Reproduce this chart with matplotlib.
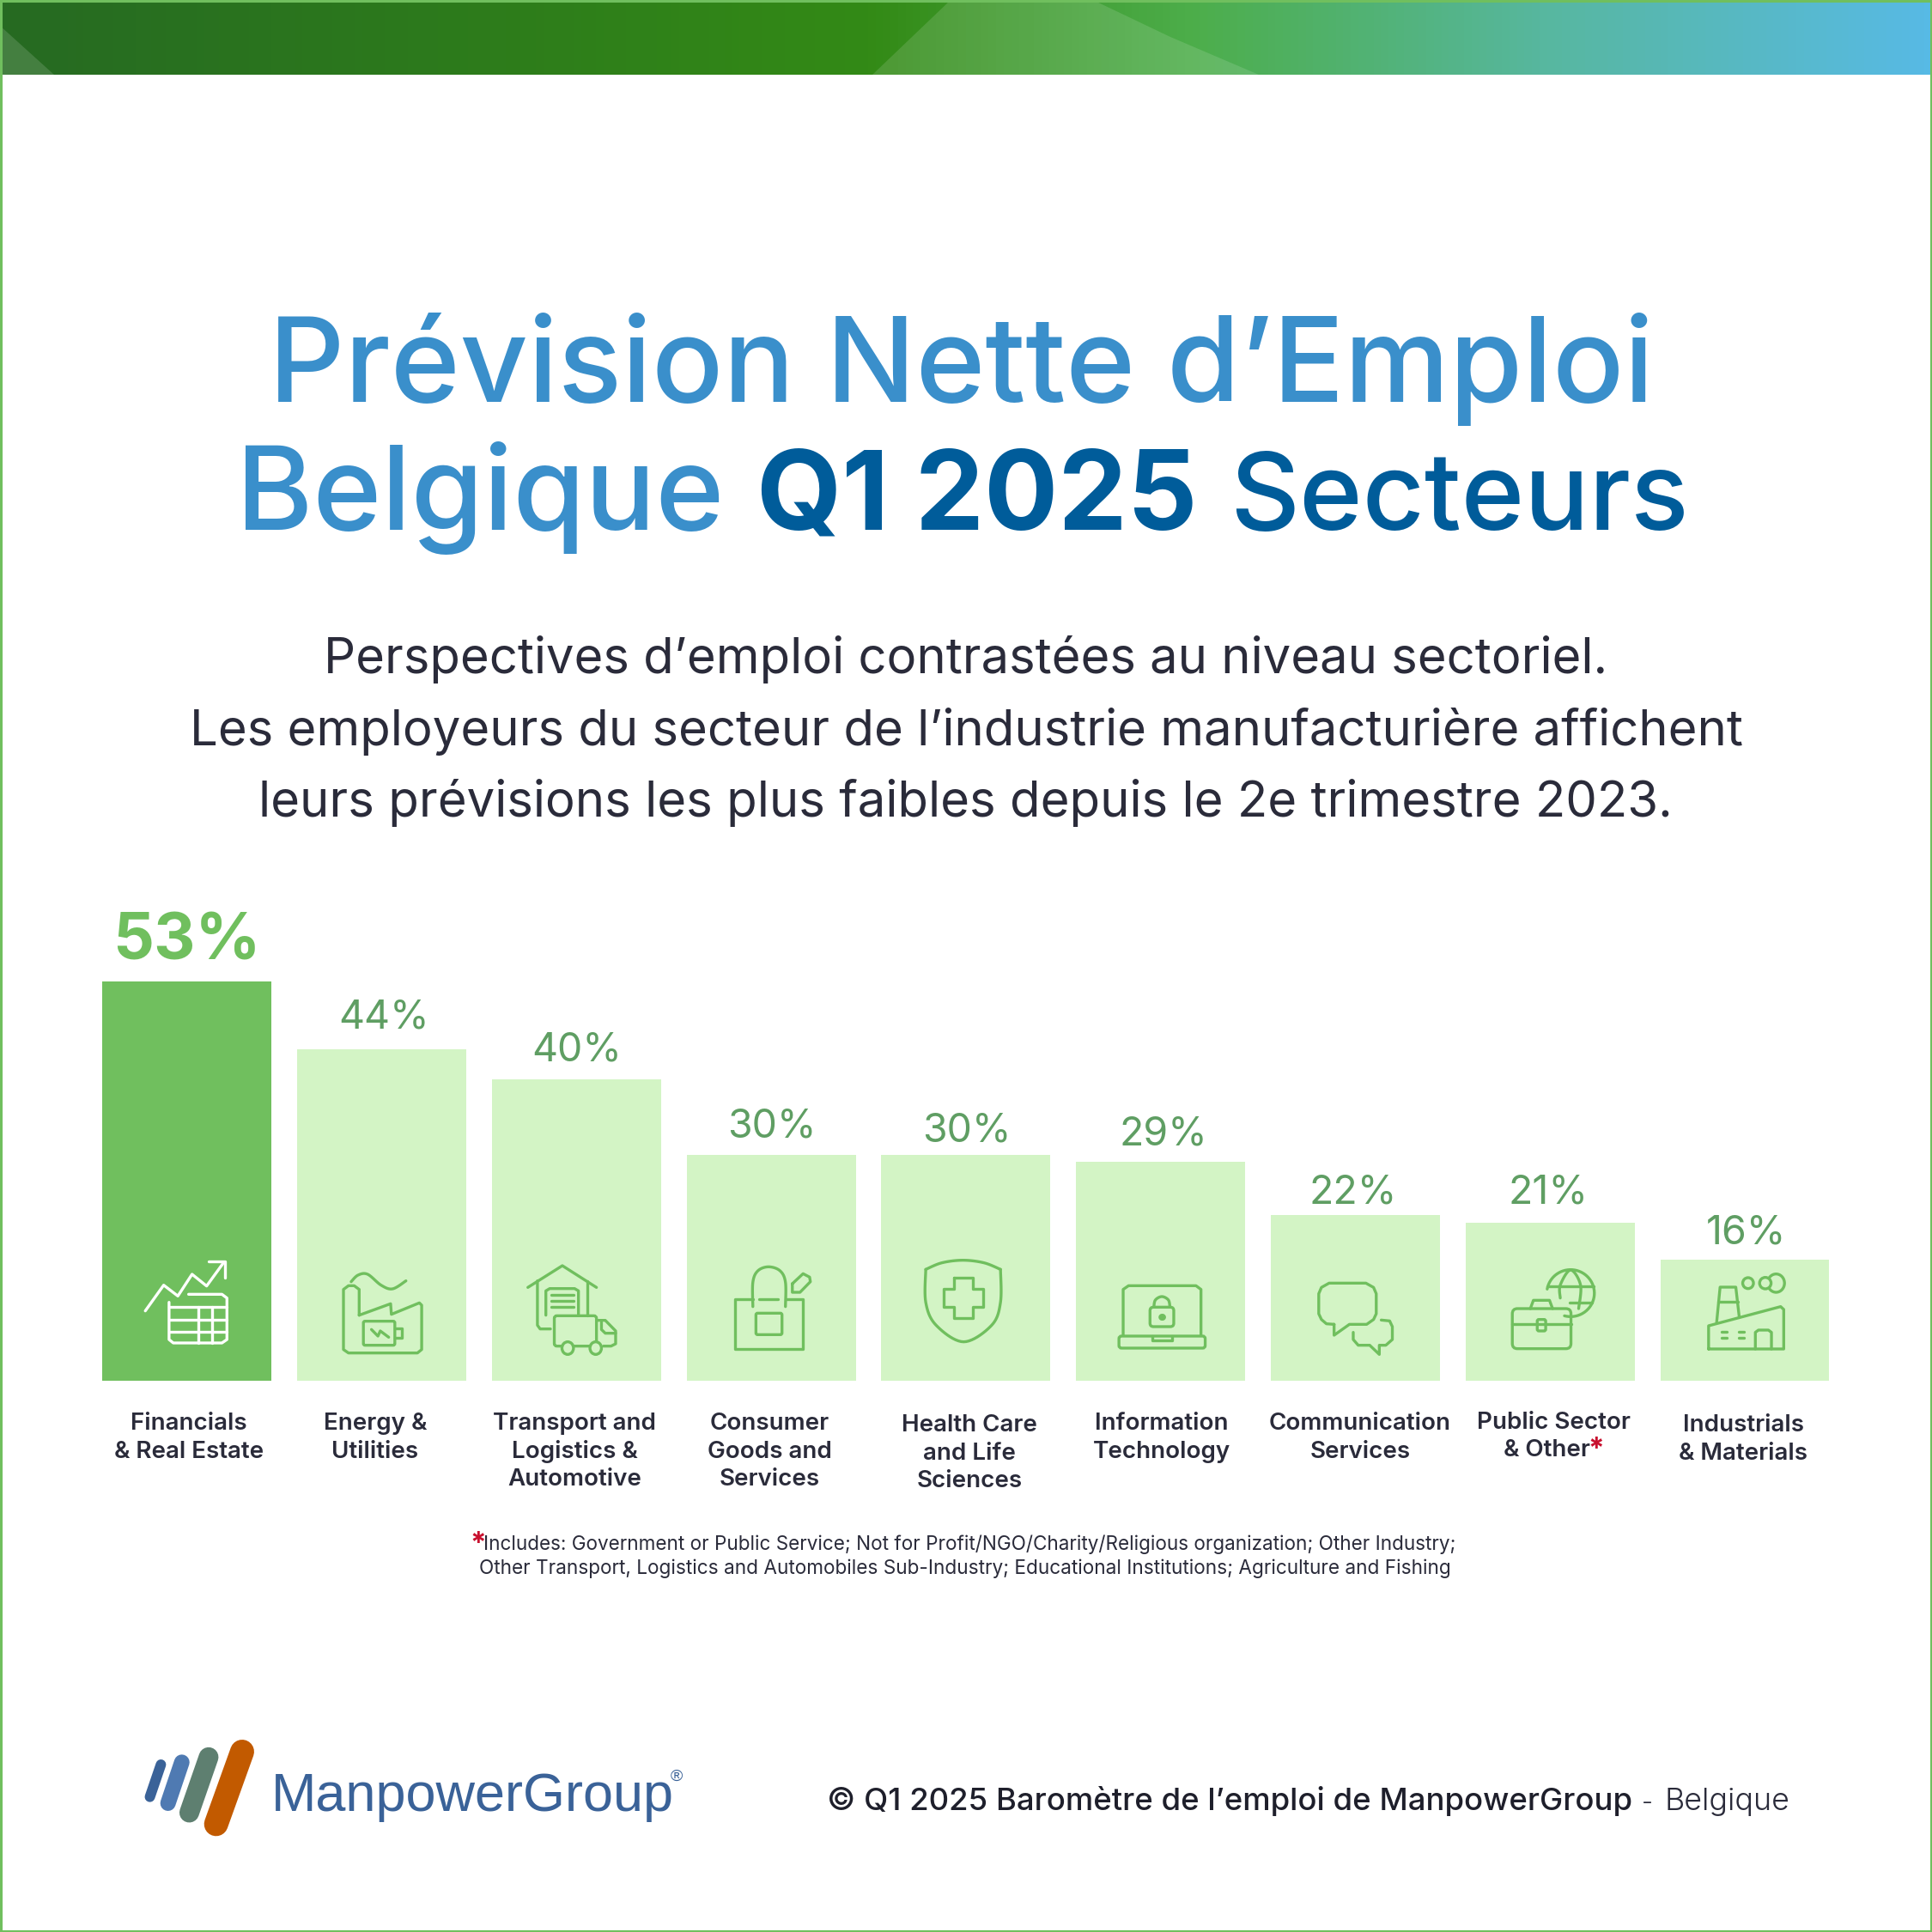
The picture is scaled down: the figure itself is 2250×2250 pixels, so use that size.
import numpy as np
import matplotlib
matplotlib.use('Agg')
import matplotlib.pyplot as plt
from matplotlib.colors import LinearSegmentedColormap
from matplotlib.patches import Ellipse, FancyBboxPatch, Polygon, Rectangle

# data
categories = [
    ['Financials', '& Real Estate'],
    ['Energy &', 'Utilities'],
    ['Transport and', 'Logistics &', 'Automotive'],
    ['Consumer', 'Goods and', 'Services'],
    ['Health Care', 'and Life', 'Sciences'],
    ['Information', 'Technology'],
    ['Communication', 'Services'],
    ['Public Sector', '& Other'],
    ['Industrials', '& Materials'],
]
values = [53, 44, 40, 30, 30, 29, 22, 21, 16]

# layout, in pixels of the final image
label_dx = [0, 3, 0, 1, 1, 3, -3, -2, 2]
label_gap = [26, 25, 22, 20, 15, 20, 13, 22, 19]
cat_x = [220, 437, 669, 896, 1129, 1353, 1584, 1809, 2030]
cat_dy = [0, 0, 0, 0, 2, 0, 0, -1, 2]

BAR_DARK = '#70BF5E'
BAR_LIGHT = '#D3F4C5'
LABEL = '#5F9E63'
INK = '#2A2B3A'
BLUE = '#3A8FCB'
NAVY = '#005C9A'
LOGO = '#3A6298'
RED = '#C8102E'

plt.rcParams['font.family'] = ['Inter', 'DejaVu Sans']

fig = plt.figure(figsize=(22.5, 22.5), dpi=100)
fig.patch.set_facecolor('white')
PT = 72 / 100

# bars : 8.76 px per point of percentage, baseline at y=1607.5
ax = fig.add_axes([104.4 / 2250, 1 - 1607.5 / 2250, 2041 / 2250, 525.6 / 2250])
ax.set_xlim(-0.5, 8.5)
ax.set_ylim(0, 60)
ax.axis('off')
ax.bar(range(len(values)), values, width=0.868,
       color=[BAR_DARK] + [BAR_LIGHT] * (len(values) - 1))
for i, v in enumerate(values):
    big = i == 0
    ax.annotate(f'{v}%', (i, v), xytext=(label_dx[i] * PT, label_gap[i] * PT),
                textcoords='offset points', ha='center', va='baseline',
                color=BAR_DARK if big else LABEL,
                fontsize=54 if big else 33.5, fontweight=700 if big else 400,
                annotation_clip=False)

# overlay in image pixels
px = fig.add_axes([0, 0, 1, 1], facecolor='none')
px.set_xlim(0, 2250)
px.set_ylim(2250, 0)
px.axis('off')


def fit_text(x0, x1, y, s, **kw):
    # font size is adjusted so the text spans x0..x1
    t = px.text(x0, y, s, ha='left', va='baseline', fontsize=40, **kw)
    w = t.get_window_extent(fig.canvas.get_renderer()).width
    t.set_fontsize(40 * (x1 - x0) / w)
    return t


# top band
band = LinearSegmentedColormap.from_list('band', [
    (0, '#266A22'), (0.45, '#338A16'), (0.62, '#4DAE4B'),
    (0.8, '#57B79F'), (1, '#57BAE5')])
px.imshow(np.linspace(0, 1, 512)[None, :], cmap=band, extent=(0, 2250, 87, 2), aspect='auto', zorder=1)
px.set_xlim(0, 2250)
px.set_ylim(2250, 0)
px.add_patch(Polygon([(1105, 2), (1277, 2), (1363, 43), (1466, 87), (1016, 87)], fc='white', alpha=0.13, ec='none', zorder=2))
px.add_patch(Polygon([(0, 30), (63, 87), (0, 87)], fc='white', alpha=0.14, ec='none', zorder=2))
px.add_patch(Rectangle((1, 1), 2248, 2248, fc='none', ec=BAR_DARK, lw=2.2, zorder=5))

# title and subtitle
fit_text(313, 1925, 468, 'Prévision Nette d’Emploi', color=BLUE, fontweight=500)
fit_text(275, 843, 617, 'Belgique', color=BLUE, fontweight=500)
fit_text(881, 1394, 617, 'Q1 2025', color=NAVY, fontweight=700)
fit_text(1432, 1966, 617, 'Secteurs', color=NAVY, fontweight=500)
fit_text(377, 1873, 784, 'Perspectives d’emploi contrastées au niveau sectoriel.', color=INK)
fit_text(221, 2029, 868, 'Les employeurs du secteur de l’industrie manufacturière affichent', color=INK)
fit_text(301, 1947, 951, 'leurs prévisions les plus faibles depuis le 2e trimestre 2023.', color=INK)

# category labels
for lines, x, dy in zip(categories, cat_x, cat_dy):
    for j, line in enumerate(lines):
        xx = 1801 if line == '& Other' else x
        px.text(xx, 1665 + dy + j * 32.5, line, ha='center', va='baseline', fontsize=20,
                fontweight=600, color=INK)
px.text(1849, 1698, '*', ha='left', va='baseline', fontsize=24, fontweight=700, color=RED)

# footnote
px.text(547, 1808, '*', ha='left', va='baseline', fontsize=24, fontweight=700, color=RED)
fit_text(563, 1693, 1805, 'Includes: Government or Public Service; Not for Profit/NGO/Charity/Religious organization; Other Industry;', color=INK)
fit_text(558, 1688, 1833, 'Other Transport, Logistics and Automobiles Sub-Industry; Educational Institutions; Agriculture and Fishing', color=INK)

# footer
fit_text(963, 1900, 2108, '© Q1 2025 Baromètre de l’emploi de ManpowerGroup', color='#1E1F2B', fontweight=500)
fit_text(1912, 1925, 2108, '-', color=INK, fontweight=300)
fit_text(1938, 2084, 2108, 'Belgique', color=INK, fontweight=300)

# logo
for (a, b, w, c) in [((97, 278), (125, 165), 12, '#3A6298'),
                     ((143, 300), (178, 157), 18, '#4F7AB2'),
                     ((197, 333), (246, 139), 23, '#5E7F70'),
                     ((265, 373), (331, 120), 28, '#C25A00')]:
    px.plot([130 + a[0] / 2.178, 130 + b[0] / 2.178], [2000 + a[1] / 3, 2000 + b[1] / 3],
            color=c, lw=w * PT, solid_capstyle='round')
fit_text(316, 785, 2109, 'ManpowerGroup', color=LOGO, family='Liberation Sans')
px.text(781, 2074, '®', color=LOGO, fontsize=14, family='Liberation Sans', va='baseline')


class Icon:
    def __init__(self, ox, color=BAR_DARK):
        self.ox, self.color = ox, color

    def xy(self, pts):
        p = np.array(pts, float)
        return self.ox + p[:, 0] / 2.24, 1400 + p[:, 1] / 3

    def line(self, *pts, closed=False):
        x, y = self.xy(list(pts) + ([pts[0]] if closed else []))
        px.plot(x, y, color=self.color, lw=2.4, solid_joinstyle='round', solid_capstyle='round', zorder=3)

    def curve(self, *pts):
        # Catmull-Rom through the traced points
        p = np.array(pts, float)
        p = np.vstack([p[0], p, p[-1]])
        out = []
        for i in range(1, len(p) - 2):
            for t in np.linspace(0, 1, 12):
                out.append(0.5 * (2 * p[i] + (p[i + 1] - p[i - 1]) * t
                                  + (2 * p[i - 1] - 5 * p[i] + 4 * p[i + 1] - p[i + 2]) * t ** 2
                                  + (3 * p[i] - p[i - 1] - 3 * p[i + 1] + p[i + 2]) * t ** 3))
        self.line(*out)

    def box(self, x0, y0, x1, y1, r=4):
        a, b = self.xy([(x0, y0), (x1, y1)])
        px.add_patch(FancyBboxPatch((a[0] + r, b[0] + r), a[1] - a[0] - 2 * r, b[1] - b[0] - 2 * r,
                                    boxstyle=f'round,pad={r},rounding_size={r}', fc='none',
                                    ec=self.color, lw=2.4, zorder=3))

    def oval(self, cx, cy, rx, ry, fill=False):
        x, y = self.xy([(cx, cy)])
        px.add_patch(Ellipse((x[0], y[0]), 2 * rx / 2.24, 2 * ry / 3, fc=self.color if fill else BAR_LIGHT,
                             ec=self.color, lw=2.4, zorder=3))


# financials
ic = Icon(100, 'white')
ic.line((155, 380), (203, 290), (240, 328), (277, 252), (315, 293), (360, 210))
ic.line((320, 208), (362, 208), (362, 265))
ic.line((268, 322), (355, 322), (368, 335), (368, 480), (355, 492), (228, 492), (217, 480), (217, 350))
for yy in (367, 410, 452):
    ic.line((217, yy), (368, yy))
for xx in (293, 330):
    ic.line((xx, 367), (xx, 492))

# energy
ic = Icon(100)
ic.curve((692, 278), (710, 255), (735, 252), (770, 290), (800, 303), (835, 275))
ic.line((713, 395), (713, 305), (700, 292), (685, 292), (672, 305), (672, 515), (685, 527), (865, 527),
        (876, 515), (876, 360), (870, 352), (797, 392), (795, 355), (713, 395))
ic.box(724, 416, 806, 500, 2)
ic.line((806, 440), (825, 440), (825, 475), (806, 475))
ic.line((745, 445), (762, 468), (768, 450), (790, 472))

# transport
ic.line((1153, 298), (1243, 222), (1332, 298))
ic.line((1178, 275), (1178, 430), (1185, 443), (1212, 443))
ic.line((1308, 275), (1308, 395))
ic.line((1200, 395), (1200, 310), (1210, 302), (1275, 302), (1285, 310), (1285, 395))
for yy in (325, 345, 366):
    ic.line((1213, yy), (1272, yy))
ic.box(1222, 397, 1332, 503, 3)
ic.line((1332, 413), (1355, 413), (1382, 450), (1382, 495), (1370, 503), (1350, 503))
ic.line((1345, 420), (1345, 445), (1355, 458), (1382, 458))
ic.oval(1257, 510, 15, 22)
ic.oval(1330, 510, 15, 22)

# consumer goods
ic = Icon(800)
ic.line((172, 338), (126, 338), (126, 513), (302, 513), (302, 338), (258, 338))
ic.line((188, 340), (238, 340))
ic.curve((172, 365), (172, 280), (185, 240), (213, 226), (243, 240), (257, 280), (257, 365))
ic.box(180, 388, 248, 463, 2)
ic.line((275, 285), (303, 250), (320, 262), (322, 278), (295, 315), (275, 315), (275, 285))

# health
ic.curve((623, 235), (665, 212), (720, 203), (775, 212), (818, 235))
ic.curve((623, 235), (623, 350), (650, 430), (722, 488), (795, 430), (818, 350), (818, 235))
ic.line((697, 265), (745, 265), (745, 303), (773, 303), (773, 367), (745, 367), (745, 405), (697, 405),
        (697, 367), (670, 367), (670, 303), (697, 303), closed=True)

# it
ic.line((1138, 465), (1138, 305), (1152, 292), (1328, 292), (1341, 305), (1341, 465))
ic.box(1127, 468, 1352, 510, 3)
ic.line((1215, 468), (1215, 483), (1265, 483), (1265, 468))
ic.curve((1218, 367), (1222, 342), (1239, 330), (1256, 342), (1260, 367))
ic.box(1208, 367, 1270, 435, 4)
ic.oval(1240, 402, 6, 7, fill=True)

# communication
ic = Icon(1480)
ic.line((165, 427), (165, 465), (205, 427), (250, 427), (268, 410), (275, 390), (275, 320), (268, 298),
        (248, 283), (152, 283), (132, 298), (125, 320), (125, 390), (132, 410), (145, 425), (165, 427))
ic.line((215, 455), (215, 480), (228, 500), (258, 500), (283, 532), (283, 500), (300, 500), (317, 480),
        (317, 435), (310, 415), (288, 412))

# public sector
ic.box(630, 372, 783, 512, 6)
ic.line((677, 372), (685, 343), (727, 343), (735, 372))
ic.line((630, 425), (783, 425))
ic.box(695, 410, 717, 450, 2)
ang = np.radians(np.linspace(190, 465, 50))
ic.line(*[(782 + 62 * np.cos(a), 318 + 82 * np.sin(a)) for a in ang])
ic.curve((755, 335), (755, 290), (782, 237), (808, 290), (803, 372))
ic.line((722, 293), (843, 293))
ic.line((780, 350), (838, 350))

# industrials
ic.line((1163, 420), (1172, 297), (1213, 297), (1222, 402))
ic.line((1168, 348), (1218, 348))
ic.line((1142, 513), (1142, 432), (1330, 365), (1338, 375), (1338, 513), (1142, 513))
ic.line((1264, 513), (1264, 455), (1272, 447), (1298, 447), (1306, 455), (1306, 513))
for xx in (1175, 1220):
    for yy in (452, 475):
        ic.line((xx, yy), (xx + 14, yy))
ic.oval(1245, 283, 14, 19)
ic.oval(1318, 283, 22, 32)
ic.oval(1290, 283, 15, 20)

fig.savefig('out.png', dpi=100)
